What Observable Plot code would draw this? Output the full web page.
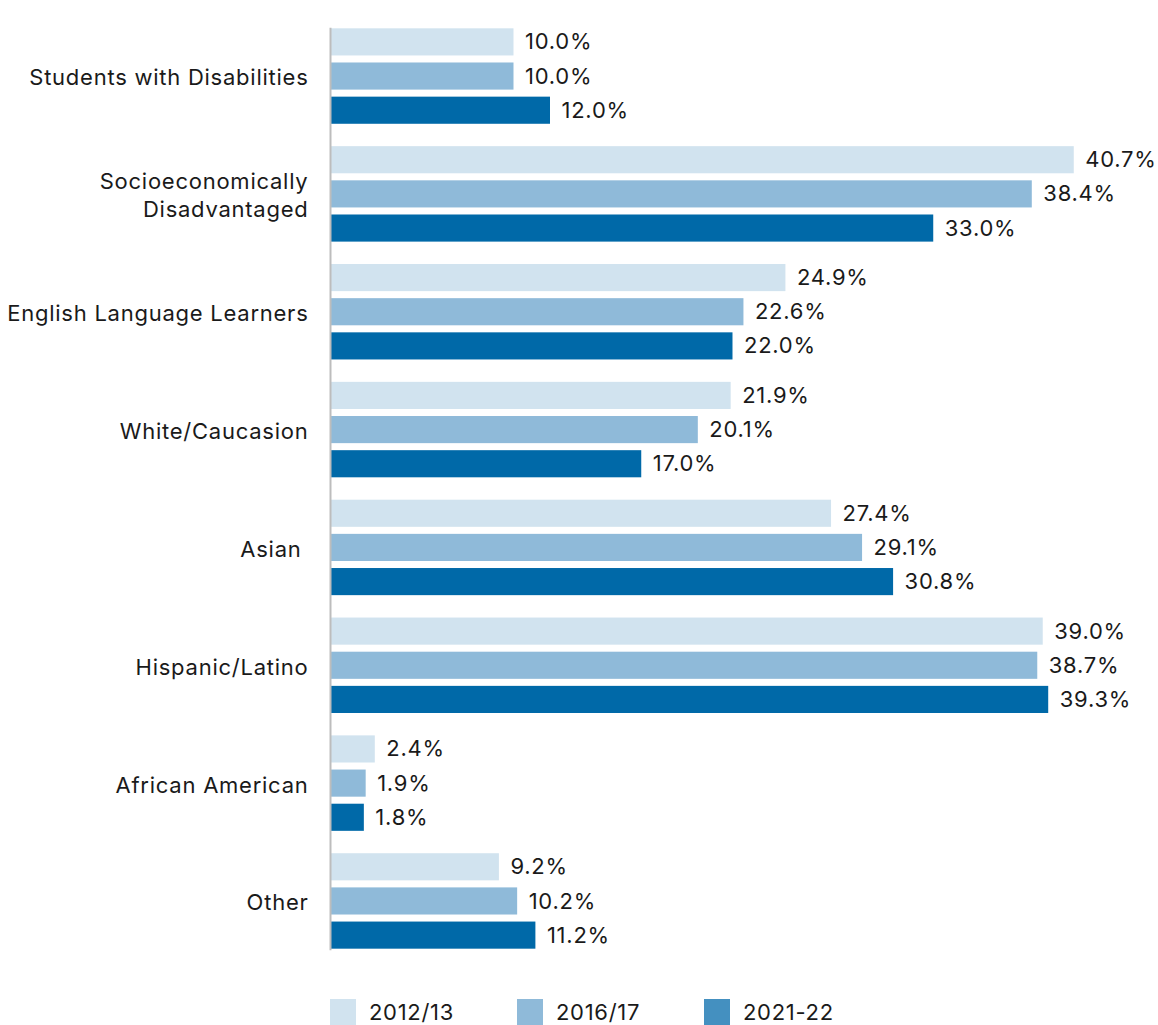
<!DOCTYPE html>
<html><head><meta charset="utf-8">
<script src="https://cdn.jsdelivr.net/npm/d3@7"></script>
<script src="https://cdn.jsdelivr.net/npm/@observablehq/plot@0.6"></script>
<style>
body{margin:0;background:#fff;font-family:Inter, sans-serif;color:#1a1a1a;}
#chart svg{display:block;}
#legend{margin-left:330px;margin-top:24px;height:26px;}
.lg-swatches, .lg-swatches-wrap{font-family:Inter, sans-serif !important;min-height:26px !important;height:26px;margin:0 !important;}
.lg-swatch{display:inline-flex;align-items:center;width:187px;margin-right:0 !important;font-size:22px;line-height:24px;letter-spacing:0.7px;color:#1a1a1a;}
.lg-swatch svg{margin-right:13px !important;}
</style></head><body>
<div id="chart"></div><div id="legend"></div>
<script>
const categories = ["Students with Disabilities","Socioeconomically\nDisadvantaged","English Language Learners","White/Caucasion","Asian\u00a0","Hispanic/Latino","African American","Other"];
const series = ["2012/13","2016/17","2021-22"];
const values2012 = [10.0,40.7,24.9,21.9,27.4,39.0,2.4,9.2];
const values2016 = [10.0,38.4,22.6,20.1,29.1,38.7,1.9,10.2];
const values2021 = [12.0,33.0,22.0,17.0,30.8,39.3,1.8,11.2];
const barColors = ["#d1e3ef","#8fbad9","#0069a8"];
const legendColors = ["#d1e3ef","#8fbad9","#4490c0"];

const seriesValues = [values2012, values2016, values2021];
const data = [];
categories.forEach((c, i) => series.forEach((s, j) => data.push({category: c, series: s, value: seriesValues[j][i]})));

const chart = Plot.plot({
  width: 1158,
  height: 975,
  marginLeft: 331,
  marginRight: 20,
  marginTop: 13,
  marginBottom: 11,
  facetMarginTop: 0, facetMarginBottom: 0, facetMarginLeft: 0, facetMarginRight: 0,
  style: {fontFamily: "Inter, sans-serif", fontSize: "22px", color: "#1a1a1a", letterSpacing: "0.75px"},
  x: {domain: [0, 44.22], axis: null},
  fy: {domain: categories, paddingInner: 0.19, paddingOuter: 0.13, round: false, label: null},
  y: {domain: series, paddingInner: 0.206, paddingOuter: 0, round: false, axis: null},
  color: {domain: series, range: barColors},
  marks: [
    Plot.barX(data, {x: "value", y: "series", fy: "category", fill: "series"}),
    Plot.text(data, {x: "value", y: "series", fy: "category", text: d => d.value.toFixed(1) + "%", dx: 11, textAnchor: "start", fill: "#1a1a1a", fontSize: 22}),
    Plot.axisFy({anchor: "left", tickSize: 0, tickPadding: 23, label: null, fontSize: 22, lineHeight: 1.27, fill: "#1a1a1a"}),
    Plot.frame({anchor: "left", facet: "super", stroke: "#bdbdbd", strokeWidth: 2, dx: -1})
  ]
});
document.getElementById("chart").appendChild(chart);

const legend = Plot.legend({color: {domain: series, range: legendColors}, swatchSize: 26, className: "lg"});
document.getElementById("legend").appendChild(legend);
</script></body></html>
